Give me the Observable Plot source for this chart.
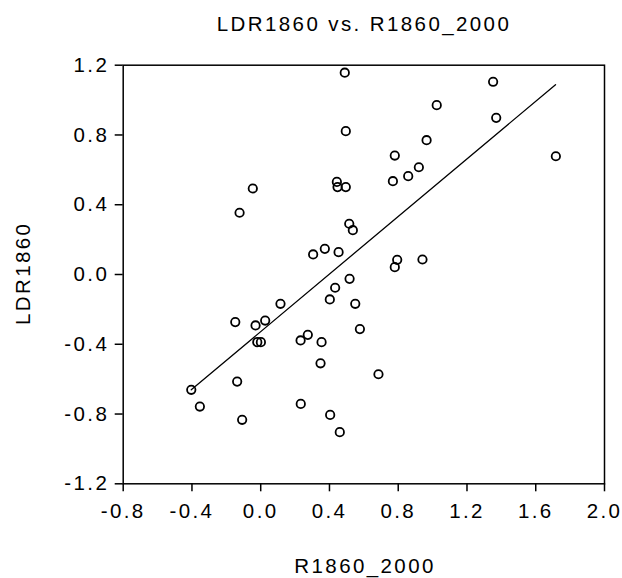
<!DOCTYPE html>
<html>
<head>
<meta charset="utf-8">
<script src="https://cdn.jsdelivr.net/npm/d3@7"></script>
<script src="https://cdn.jsdelivr.net/npm/@observablehq/plot@0.6"></script>
<style>
  html, body { margin: 0; padding: 0; background: #fff; }
  #title {
    box-sizing: border-box;
    width: 622px; height: 44px;
    padding: 4px 18px 0 124px;
    line-height: 40px;
    text-align: center;
    font-family: "Liberation Sans", Arial, sans-serif;
    font-size: 20.5px; letter-spacing: 2.4px; color: #000;
    white-space: nowrap;
  }
</style>
</head>
<body>
<div id="title">LDR1860 vs. R1860_2000</div>
<div id="chart"></div>
<script>
const titleText = "LDR1860 vs. R1860_2000";
const xLabel = "R1860_2000";
const yLabel = "LDR1860";

const r1860_2000 = [0.489, 0.495, -0.046, -0.123, 0.443, 0.447, 0.495, 0.515, 0.536, 0.305,
  0.373, 0.453, 1.352, 1.024, 1.370, 0.965, 0.780, 1.717, 0.920, 0.858,
  0.769, 0.794, 0.780, 0.941, 0.517, 0.433, 0.402, 0.115, 0.550, -0.148,
  -0.030, 0.026, 0.577, 0.232, 0.274, 0.354, -0.020, 0.001, 0.348, -0.404,
  -0.137, -0.354, -0.108, 0.233, 0.404, 0.460, 0.685];
const ldr1860 = [1.157, 0.822, 0.493, 0.354, 0.531, 0.501, 0.501, 0.291, 0.254, 0.115,
  0.147, 0.128, 1.105, 0.971, 0.898, 0.770, 0.682, 0.678, 0.615, 0.564,
  0.535, 0.084, 0.042, 0.086, -0.025, -0.076, -0.143, -0.168, -0.168, -0.273,
  -0.292, -0.264, -0.313, -0.378, -0.346, -0.388, -0.388, -0.388, -0.509, -0.661,
  -0.614, -0.757, -0.833, -0.742, -0.805, -0.904, -0.572];

const fitX = [-0.404, 1.715];
const fitY = [-0.661, 1.088];

const xTicks = [-0.8, -0.4, 0.0, 0.4, 0.8, 1.2, 1.6, 2.0];
const yTicks = [-1.2, -0.8, -0.4, 0.0, 0.4, 0.8, 1.2];

const points = r1860_2000.map((x, i) => ({x, y: ldr1860[i]}));
const fit = fitX.map((x, i) => ({x, y: fitY[i]}));

const fmt = d => d.toFixed(1);

const chart = Plot.plot({
  width: 622,
  height: 534,
  marginTop: 20.7,
  marginLeft: 122.7,
  marginRight: 18,
  marginBottom: 94.7,
  style: {
    fontFamily: '"Liberation Sans", Arial, sans-serif',
    fontSize: "20.5px",
    letterSpacing: "2.4px",
    color: "#000",
    background: "#fff"
  },
  x: {domain: [-0.8, 2.0], axis: null},
  y: {domain: [-1.2, 1.2], axis: null},
  marks: [
    Plot.frame({stroke: "#000", strokeWidth: 1.5}),
    Plot.axisX({ticks: xTicks, tickSize: 8, tickPadding: 12, tickFormat: fmt, label: null, stroke: "#000", strokeWidth: 1.5, fill: "#000"}),
    Plot.axisY({ticks: yTicks, tickSize: 8, tickPadding: 6, tickFormat: fmt, label: null, stroke: "#000", strokeWidth: 1.5, fill: "#000"}),
    Plot.line(fit, {x: "x", y: "y", stroke: "#000", strokeWidth: 1.3}),
    Plot.dot(points, {x: "x", y: "y", r: 4.2, stroke: "#000", strokeWidth: 1.8, fill: "none"}),
    Plot.text([xLabel], {text: d => d, frameAnchor: "bottom", dy: 82.5, dx: 1.2, lineAnchor: "middle", textAnchor: "middle", fill: "#000"}),
    Plot.text([yLabel], {text: d => d, frameAnchor: "left", dx: -100.2, dy: -1.2, rotate: -90, lineAnchor: "middle", textAnchor: "middle", fill: "#000"})
  ]
});
document.getElementById("chart").appendChild(chart);
</script>
</body>
</html>
